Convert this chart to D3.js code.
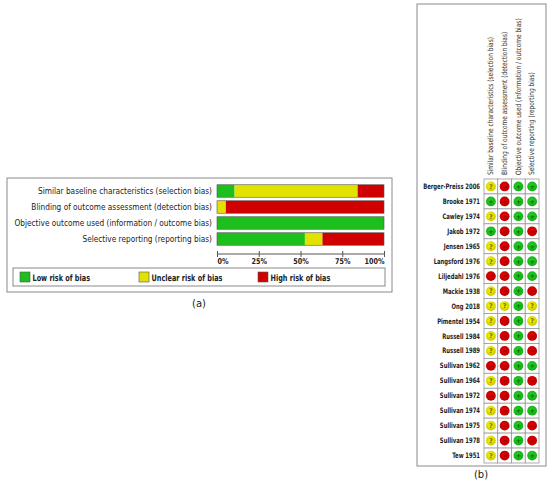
<!DOCTYPE html>
<html>
<head>
<meta charset="utf-8">
<script src="https://cdn.jsdelivr.net/npm/d3@7"></script>
<style>
  body { margin: 0; background: #fff; }
  svg { display: block; font-family: "DejaVu Sans", Verdana, sans-serif; }
</style>
</head>
<body>
<svg id="chart" width="550" height="486"></svg>
<script>
// risk-of-bias domains (rows in (a), columns in (b))
const domains = [
  "Similar baseline characteristics (selection bias)",
  "Blinding of outcome assessment (detection bias)",
  "Objective outcome used (information / outcome bias)",
  "Selective reporting (reporting bias)"
];

const studies = [
  "Berger-Preiss 2006", "Brooke 1971", "Cawley 1974", "Jakob 1972", "Jensen 1965",
  "Langsford 1976", "Liljedahl 1976", "Mackie 1938", "Ong 2018", "Pimentel 1954",
  "Russell 1984", "Russell 1989", "Sullivan 1962", "Sullivan 1964", "Sullivan 1972",
  "Sullivan 1974", "Sullivan 1975", "Sullivan 1978", "Tew 1951"
];

// judgements per domain, in study order: L = low, U = unclear, H = high
const baseline  = ["U","L","U","L","U","U","H","U","U","U","U","U","H","U","H","U","U","U","U"];
const blinding  = ["H","H","H","H","H","H","H","H","U","H","H","H","H","H","H","H","H","H","H"];
const objective = ["L","L","L","L","L","L","L","L","L","L","L","L","L","L","L","L","L","L","L"];
const reporting = ["L","L","L","H","L","L","L","H","U","U","H","H","L","H","L","L","H","H","L"];
const judgements = [baseline, blinding, objective, reporting];

const levels = ["L", "U", "H"];
const levelNames = ["Low risk of bias", "Unclear risk of bias", "High risk of bias"];
const tickValues = [0, 25, 50, 75, 100];
const tickLabels = ["0%", "25%", "50%", "75%", "100%"];

const color = d3.scaleOrdinal().domain(levels).range(["#1cbf1c", "#e2e200", "#d00000"]);
const symbolColor = d3.scaleOrdinal().domain(levels).range(["#0b6a0b", "#6b6b00", "#8a0000"]);
const symbol = d3.scaleOrdinal().domain(levels).range(["+", "?", "\u2212"]);

const svg = d3.select("#chart");

// squeeze a text selection horizontally so its widest item is `target` px
function squeeze(sel, target) {
  let widest = 0;
  sel.each(function() { widest = Math.max(widest, this.getComputedTextLength()); });
  const k = target / widest;
  sel.attr("transform", function() {
    return (this.getAttribute("transform") || "") + ` scale(${k.toFixed(3)},1)`;
  });
}

// ---------- (a) summary bars ----------
const a = svg.append("g");

a.append("rect")
  .attr("x", 7).attr("y", 178).attr("width", 385).attr("height", 114)
  .attr("fill", "#fff").attr("stroke", "#8a8a8a");

const x = d3.scaleLinear().domain([0, 100]).range([217, 384]);
const y = d3.scaleBand().domain(domains).range([183, 247])
  .paddingInner(0.22).paddingOuter(0.11);

const summary = domains.map((d, i) => {
  const row = { domain: d };
  levels.forEach(l => {
    row[l] = 100 * judgements[i].filter(v => v === l).length / studies.length;
  });
  return row;
});
const stacked = d3.stack().keys(levels)(summary);

const labelsA = a.append("g").selectAll("text").data(domains).join("text")
  .attr("transform", d => `translate(212,${y(d) + y.bandwidth() / 2 + 3.3})`)
  .attr("text-anchor", "end")
  .attr("font-size", 9)
  .attr("fill", "#222")
  .text(d => d);
squeeze(labelsA, 198);

a.append("g").selectAll("g").data(stacked).join("g")
  .attr("fill", s => color(s.key))
  .selectAll("rect").data(s => s).join("rect")
    .attr("x", d => x(d[0]))
    .attr("y", d => y(d.data.domain))
    .attr("width", d => x(d[1]) - x(d[0]))
    .attr("height", y.bandwidth());

a.append("g").selectAll("rect").data(domains).join("rect")
  .attr("x", x(0)).attr("y", d => y(d))
  .attr("width", x(100) - x(0)).attr("height", y.bandwidth())
  .attr("fill", "none").attr("stroke", "#555").attr("stroke-width", 0.6);

const axis = a.append("g")
  .attr("transform", "translate(0,254)")
  .call(d3.axisBottom(x).tickValues(tickValues).tickSizeOuter(0)
    .tickFormat((d, i) => tickLabels[i]));
axis.select(".domain").attr("stroke", "#555").attr("d", `M${x(0)},0H${x(100)}`);
axis.selectAll(".tick line").attr("stroke", "#555").attr("y1", -3).attr("y2", 3);
const tickText = axis.selectAll(".tick text")
  .attr("y", 0).attr("dy", 0)
  .attr("transform", "translate(0,9.5)")
  .attr("font-family", "DejaVu Sans, sans-serif")
  .attr("font-size", 8).attr("font-weight", "bold").attr("fill", "#222")
  .attr("text-anchor", (d, i) => i === 0 ? "start" : i === tickValues.length - 1 ? "end" : "middle");
squeeze(tickText, 20);

// legend
a.append("rect")
  .attr("x", 13).attr("y", 268).attr("width", 372).attr("height", 18)
  .attr("fill", "#fff").attr("stroke", "#8a8a8a");
const legendX = d3.scalePoint().domain(levels).range([20, 258]);
const leg = a.append("g").selectAll("g").data(levels).join("g")
  .attr("transform", d => `translate(${legendX(d)},272)`);
leg.append("rect")
  .attr("width", 10).attr("height", 10)
  .attr("fill", d => color(d)).attr("stroke", "#555").attr("stroke-width", 0.6);
const legText = leg.append("text")
  .attr("transform", "translate(12.5,8.8)")
  .attr("font-size", 9).attr("font-weight", "bold").attr("fill", "#222")
  .text((d, i) => levelNames[i]);
squeeze(legText, 71);

a.append("text")
  .attr("x", 199).attr("y", 307)
  .attr("text-anchor", "middle").attr("font-size", 10).attr("fill", "#222")
  .text("(a)");

// ---------- (b) traffic-light grid ----------
const b = svg.append("g");

b.append("rect")
  .attr("x", 417).attr("y", 4).attr("width", 129).attr("height", 462)
  .attr("fill", "#fff").attr("stroke", "#8a8a8a");

const cx = d3.scaleBand().domain(domains).range([484, 539]);
const cy = d3.scaleBand().domain(studies).range([179, 463]);

const defs = svg.append("defs");
levels.forEach(l => {
  const g = defs.append("radialGradient").attr("id", "dot" + l)
    .attr("cx", "45%").attr("cy", "40%").attr("r", "60%");
  g.append("stop").attr("offset", "0%").attr("stop-color", d3.color(color(l)).brighter(0.3));
  g.append("stop").attr("offset", "100%").attr("stop-color", d3.color(color(l)).darker(0.35));
});

const headers = b.append("g").selectAll("text").data(domains).join("text")
  .attr("transform", d => `translate(${cx(d) + cx.bandwidth() / 2 + 2.2},175) rotate(-90)`)
  .attr("font-size", 7.5)
  .attr("fill", "#333")
  .text(d => d);
squeeze(headers, 157);

const rowLabels = b.append("g").selectAll("text").data(studies).join("text")
  .attr("transform", d => `translate(480,${cy(d) + cy.bandwidth() / 2 + 2.6})`)
  .attr("text-anchor", "end")
  .attr("font-size", 7.5).attr("font-weight", "bold").attr("fill", "#222")
  .text(d => d);
squeeze(rowLabels, 57);

const cells = [];
studies.forEach((s, i) => domains.forEach((d, j) => cells.push({ study: s, domain: d, v: judgements[j][i] })));

const cell = b.append("g").selectAll("g").data(cells).join("g")
  .attr("transform", d => `translate(${cx(d.domain)},${cy(d.study)})`);
cell.append("rect")
  .attr("width", cx.bandwidth()).attr("height", cy.bandwidth())
  .attr("fill", "#fff").attr("stroke", "#9a9a9a").attr("stroke-width", 0.8);
cell.append("circle")
  .attr("cx", cx.bandwidth() / 2).attr("cy", cy.bandwidth() / 2).attr("r", 4.9)
  .attr("fill", d => `url(#dot${d.v})`);
cell.append("text")
  .attr("x", cx.bandwidth() / 2).attr("y", cy.bandwidth() / 2 + 2.3)
  .attr("text-anchor", "middle")
  .attr("font-size", 6.5).attr("font-weight", "bold")
  .attr("fill", d => symbolColor(d.v))
  .text(d => symbol(d.v));

b.append("text")
  .attr("x", 481).attr("y", 478)
  .attr("text-anchor", "middle").attr("font-size", 10).attr("fill", "#222")
  .text("(b)");
</script>
</body>
</html>
